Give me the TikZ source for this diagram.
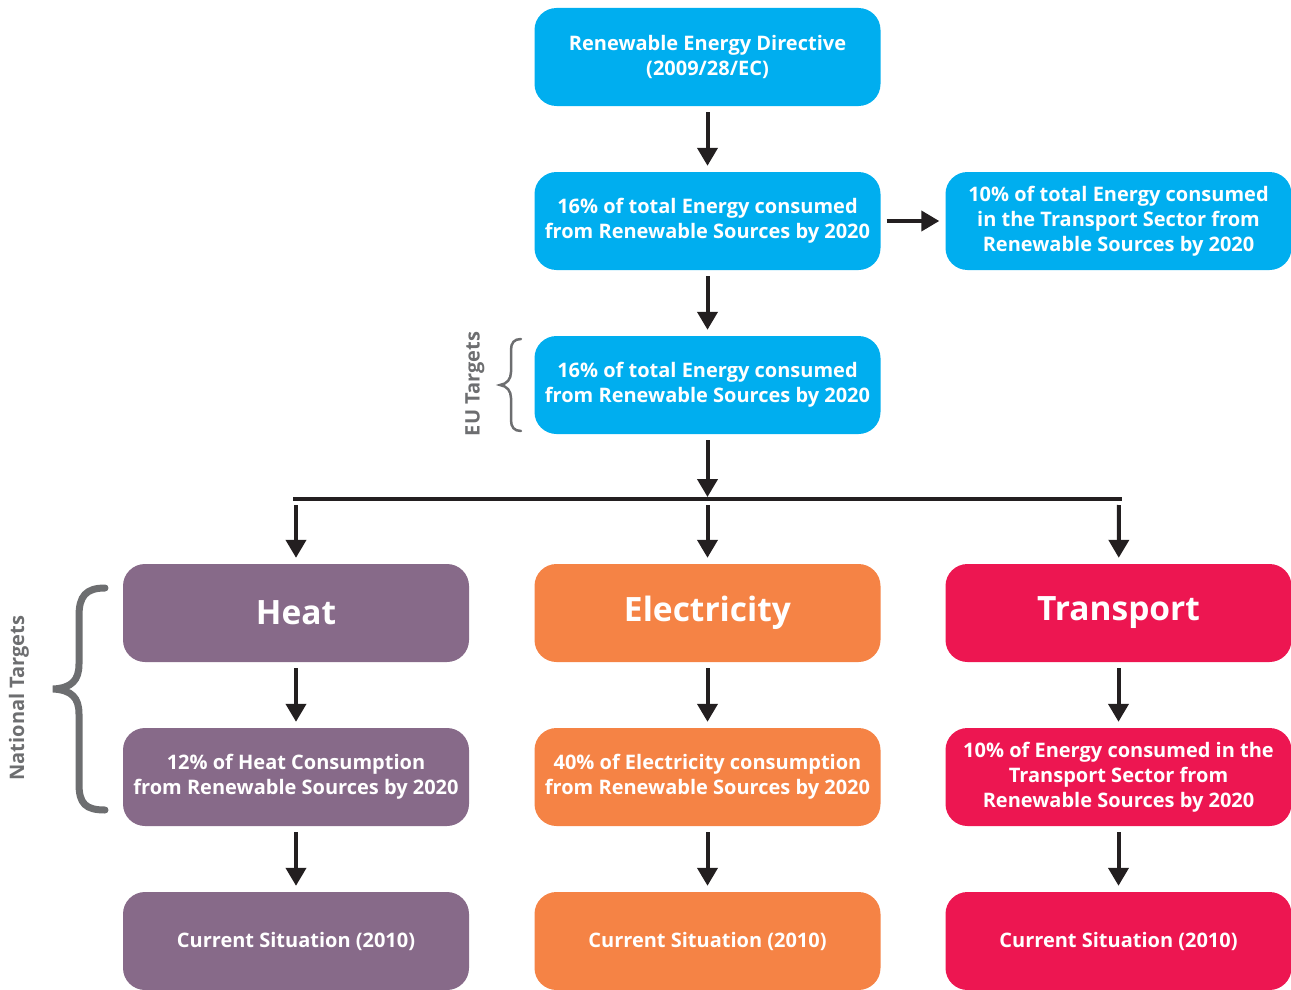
\documentclass[tikz,border=0pt]{standalone}
\usepackage{fontspec}
\setmainfont{Open Sans}
\usetikzlibrary{arrows.meta}
\definecolor{cblue}{HTML}{00AEEF}
\definecolor{cpurple}{HTML}{876A89}
\definecolor{corange}{HTML}{F58345}
\definecolor{cred}{HTML}{ED1651}
\definecolor{carrow}{HTML}{231F20}
\definecolor{cgray}{HTML}{6D6E70}
\tikzset{
  box/.style={rounded corners=22pt, minimum width=346pt, minimum height=98pt,
    text=white, align=center, inner sep=0pt, font=\bfseries\fontsize{20}{25}\selectfont},
  bigbox/.style={box, font=\bfseries\fontsize{33.5}{38}\selectfont},
  arr/.style={draw=carrow, line width=4pt, -{Triangle[width=20pt,length=18pt]}, shorten >=6pt, shorten <=6pt},
  brace/.style={draw=cgray, line cap=round},
  sidelabel/.style={text=cgray, rotate=90, font=\bfseries\fontsize{20}{22}\selectfont}
}
\begin{document}
\begin{tikzpicture}[x=1pt,y=-1pt]
\useasboundingbox (0,0) rectangle (1291,990);
% top column
\node[box, fill=cblue] (red) at (707.5,57) {Renewable Energy Directive\\(2009/28/EC)};
\node[box, fill=cblue] (tot) at (707.5,221) {16\% of total Energy consumed\\from Renewable Sources by 2020};
\node[box, fill=cblue] (trt) at (1118.5,221) {10\% of total Energy consumed\\in the Transport Sector from\\Renewable Sources by 2020};
\node[box, fill=cblue] (eu) at (707.5,385) {16\% of total Energy consumed\\from Renewable Sources by 2020};
% sectors
\node[bigbox, fill=cpurple] (heat) at (296,613) {Heat};
\node[bigbox, fill=corange] (elec) at (707.5,613) {Electricity};
\node[bigbox, fill=cred] (tran) at (1118.5,613) {Transport};
\node[box, fill=cpurple] (heatt) at (296,777) {12\% of Heat Consumption\\from Renewable Sources by 2020};
\node[box, fill=corange] (elect) at (707.5,777) {40\% of Electricity consumption\\from Renewable Sources by 2020};
\node[box, fill=cred] (trant) at (1118.5,777) {10\% of Energy consumed in the\\Transport Sector from\\Renewable Sources by 2020};
\node[box, fill=cpurple] (heatc) at (296,941) {Current Situation (2010)};
\node[box, fill=corange] (elecc) at (707.5,941) {Current Situation (2010)};
\node[box, fill=cred] (tranc) at (1118.5,941) {Current Situation (2010)};
% arrows
\draw[arr] (red) -- (tot);
\draw[arr] (tot) -- (eu);
\draw[arr] (tot) -- (trt);
\coordinate (jl) at (293,499);
\coordinate (jm) at (707.5,499);
\coordinate (jr) at (1122,499);
\draw[carrow, line width=4pt] (jl) -- (jr);
\draw[arr, shorten >=2pt] (eu) -- (jm);
\draw[arr] ([xshift=3pt]jl) -- (heat);
\draw[arr] (jm) -- (elec);
\draw[arr] ([xshift=-3pt]jr) -- (tran);
\draw[arr] (heat) -- (heatt);
\draw[arr] (heatt) -- (heatc);
\draw[arr] (elec) -- (elect);
\draw[arr] (elect) -- (elecc);
\draw[arr] (tran) -- (trant);
\draw[arr] (trant) -- (tranc);
% braces
\draw[brace, line width=7pt] (105,588) .. controls (86,588) and (79,596) .. (79,616) -- (79,664) .. controls (79,680) and (72,688) .. (53,689) .. controls (72,690) and (79,698) .. (79,714) -- (79,784) .. controls (79,804) and (86,810) .. (105,810);
\draw[brace, line width=2.5pt] (521,339) .. controls (514,339) and (511,343) .. (511,350) -- (511,372) .. controls (511,379) and (507,384) .. (500,385) .. controls (507,386) and (511,391) .. (511,398) -- (511,420) .. controls (511,427) and (514,431) .. (521,431);
\node[sidelabel] (natl) at (19,698) {National Targets};
\node[sidelabel] (eul) at (475,384) {EU Targets};
\end{tikzpicture}
\end{document}
